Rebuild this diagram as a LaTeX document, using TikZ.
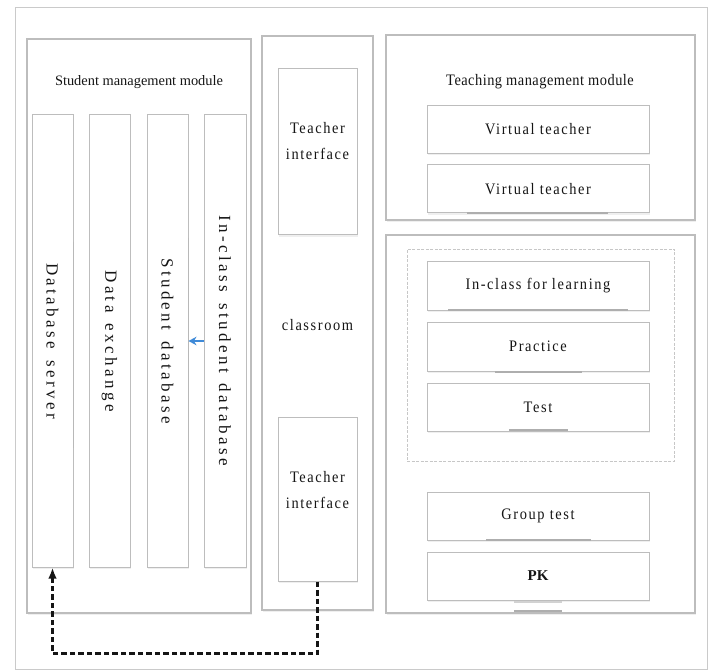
\documentclass[tikz,border=0pt]{standalone}
\usepackage{fontspec}
\setmainfont{Liberation Serif}
\newfontfamily\labfont[FakeStretch=0.9,LetterSpace=10]{Liberation Serif}
\newfontfamily\headfont[FakeStretch=0.9,LetterSpace=3]{Liberation Serif}
\newfontfamily\colfont[LetterSpace=20]{Liberation Serif}
\usetikzlibrary{arrows.meta,shadows}

\definecolor{edge}{HTML}{BDBDBD}
\definecolor{smudge}{HTML}{9A9A9A}
\definecolor{ink}{HTML}{151515}
\definecolor{flow}{HTML}{3F8AD8}

% wide word gap for the letter-spaced column captions
\newcommand{\colgap}{\kern 11pt\relax}

\begin{document}
\begin{tikzpicture}[x=1pt,y=-1pt,
  softshadow/.style={drop shadow={opacity=0.12,shadow xshift=0.8pt,shadow yshift=-1.6pt}},
  frame/.style={draw=edge!80,line width=1pt,inner sep=0pt},
  panel/.style={draw=edge,line width=1.1pt,fill=white,inner sep=0pt,softshadow},
  column/.style={draw=edge,line width=1pt,fill=white,inner sep=0pt,minimum width=41,minimum height=452,softshadow},
  item/.style={draw=edge,line width=1pt,fill=white,inner sep=0pt,minimum width=222,minimum height=48,
               softshadow,font=\labfont\fontsize{16}{18}\selectfont,text=ink},
  sidebox/.style={draw=edge,line width=1pt,fill=white,inner sep=0pt,minimum width=79,softshadow},
  sidetext/.style={font=\labfont\fontsize{16}{25.5}\selectfont,text=ink,align=center},
  coltext/.style={rotate=-90,font=\colfont\fontsize{17}{18}\selectfont,text=ink},
  title/.style={text=ink},
  group/.style={draw=edge!85,line width=0.8pt,dash pattern=on 3pt off 1.5pt,inner sep=0pt},
  bar/.style={draw=smudge!80,line width=2pt},
  seam/.style={draw=smudge!70,line width=1pt},
  dasharrow/.style={draw=ink,line width=2.2pt,dash pattern=on 5.5pt off 3pt,
                    -{Latex[length=11pt,width=8.5pt]}},
  bluearrow/.style={draw=flow,line width=1.5pt,-{Stealth[length=8pt,width=8.5pt]}}
]
\useasboundingbox (0,0) rectangle (715,671);
\fill[white] (0,0) rectangle (715,671);

% outer frame
\node[frame,minimum width=692,minimum height=661] (outer) at (361,338.5) {};

% ---------------- student management module ----------------
\node[panel,minimum width=224,minimum height=574] (smm) at (139,326) {};
\node[title,font=\fontsize{14.4}{17}\selectfont] (smmtitle) at (139,82) {Student management module};

\node[column] (db)   at (52.5,341)  {};
\node[column] (dx)   at (109.5,341) {};
\node[column] (sdb)  at (167.5,341) {};
\node[column,minimum width=42] (icdb) at (225,341) {};

\draw[seam] (73,242) -- (73,448);
\draw[seam] (188,238) -- (188,450);

\node[coltext] (dbt)   at (db)   {Database\colgap server};
\node[coltext] (dxt)   at (dx)   {Data\colgap exchange};
\node[coltext] (sdbt)  at (sdb)  {Student\colgap database};
\node[coltext] (icdbt) at (icdb) {In-class\colgap student\colgap database};

\draw[bluearrow] (icdb.west) -- (sdb.east);

% ---------------- classroom ----------------
\node[panel,minimum width=111,minimum height=574] (room) at (317.5,323) {};
\node[sidebox,minimum height=166] (tia) at (317.5,152) {};
\node[sidetext] (tiat) at (317.5,141) {Teacher\\interface};
\node[sidetext] (roomt) at (317.5,325) {classroom};
\node[sidebox,minimum height=164] (tib) at (317.5,499) {};
\node[sidetext] (tibt) at (317.5,490) {Teacher\\interface};

% ---------------- teaching management module ----------------
\node[panel,minimum width=309,minimum height=185] (tmm) at (540.5,127.5) {};
\node[title,font=\headfont\fontsize{16}{18}\selectfont] (tmmtitle) at (540,82) {Teaching management module};
\node[item] (vt1) at (538,129.5) {Virtual teacher};
\node[item] (vt2) at (538,189) {Virtual teacher};
\draw[bar] (467,213) -- (608,213);

% ---------------- activities ----------------
\node[panel,minimum width=309,minimum height=378] (act) at (540.5,424) {};
\node[group,minimum width=267,minimum height=212] (learn) at (540.5,355) {};
\node[item] (icl)  at (538,286)   {In-class for learning};
\node[item,minimum height=49] (prac) at (538,346.5) {Practice};
\node[item] (test) at (538,407)   {Test};
\node[item] (grp)  at (538,516)   {Group test};
\node[item,font=\bfseries\fontsize{15}{17}\selectfont] (pk) at (538,576) {PK};

\draw[bar] (448,309.5) -- (628,309.5);
\draw[bar] (495,372) -- (582,372);
\draw[bar] (509,429.5) -- (568,429.5);
\draw[bar] (486,540) -- (591,540);
\draw[bar,draw=smudge!45] (514,601.5) -- (562,601.5);
\draw[bar] (514,611) -- (562,611);

% ---------------- feedback link ----------------
\draw[dasharrow] (tib.south) -- ++(0,72) -| (db.south);

\end{tikzpicture}
\end{document}
